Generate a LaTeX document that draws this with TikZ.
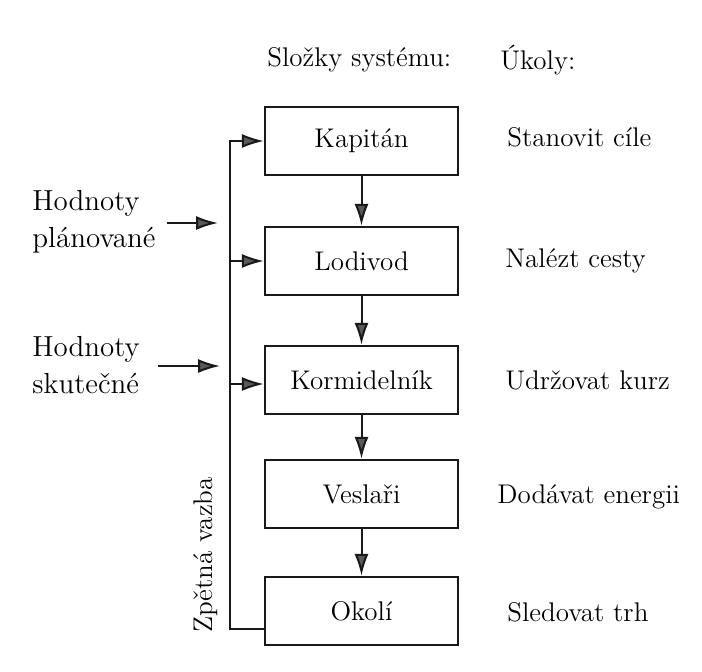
\documentclass[tikz,border=0pt]{standalone}
\usetikzlibrary{arrows.meta}
\begin{document}
\begin{tikzpicture}[x=0.5pt,y=-0.5pt,
  font=\fontsize{13.5}{18.5}\selectfont,
  box/.style={draw=black!90, line width=1.1pt, minimum width=96.5pt, minimum height=34pt, inner sep=0pt},
  ln/.style={draw=black!90, line width=1pt},
  arr/.style={ln, -{Latex[length=11pt,width=7pt,fill=black!65]}},
  lbl/.style={anchor=west, inner sep=0pt, align=left}]
\useasboundingbox (0,0) rectangle (702,671);
% headers
\node[lbl] (h1) at (267,60) {Složky systému:};
\node[lbl] (h2) at (500,60) {Úkoly:};
% boxes
\node[box] (kap) at (361.5,141) {Kapitán};
\node[box] (lod) at (361.5,261) {Lodivod};
\node[box] (kor) at (361.5,380) {Kormidelník};
\node[box] (ves) at (361.5,494) {Veslaři};
\node[box] (oko) at (361.5,611) {Okolí};
% tasks
\node[lbl] (t1) at (507,137) {Stanovit cíle};
\node[lbl] (t2) at (505,261) {Nalézt cesty};
\node[lbl] (t3) at (505,380) {Udržovat kurz};
\node[lbl] (t4) at (497,497) {Dodávat energii};
\node[lbl] (t5) at (507,612) {Sledovat trh};
% down arrows
\draw[arr] (kap) -- (lod);
\draw[arr] (lod) -- (kor);
\draw[arr] (kor) -- (ves);
\draw[arr] (ves) -- (oko);
% feedback
\coordinate (fbtop) at (230,141);
\coordinate (fblod) at (230,261);
\coordinate (fbkor) at (230,384);
\draw[arr] ([yshift=-9pt]oko.west) -| (fbtop) -- (kap.west);
\draw[arr] (fblod) -- (lod.west);
\draw[arr] (fbkor) -- ([yshift=-2pt]kor.west);
\node[rotate=90, inner sep=0pt] (zv) at (206,555) {Zpětná vazba};
% inputs
\node[lbl, font=\fontsize{14.5}{18.5}\selectfont] (plan) at (32,222) {Hodnoty\\plánované};
\node[lbl, font=\fontsize{14.5}{18.5}\selectfont] (skut) at (32,365) {Hodnoty\\skutečné};
\coordinate (pa) at (167,223);
\coordinate (pb) at (218,223);
\coordinate (sa) at (158,366);
\coordinate (sb) at (220,366);
\draw[arr] (pa) -- (pb);
\draw[arr] (sa) -- (sb);
\end{tikzpicture}
\end{document}
